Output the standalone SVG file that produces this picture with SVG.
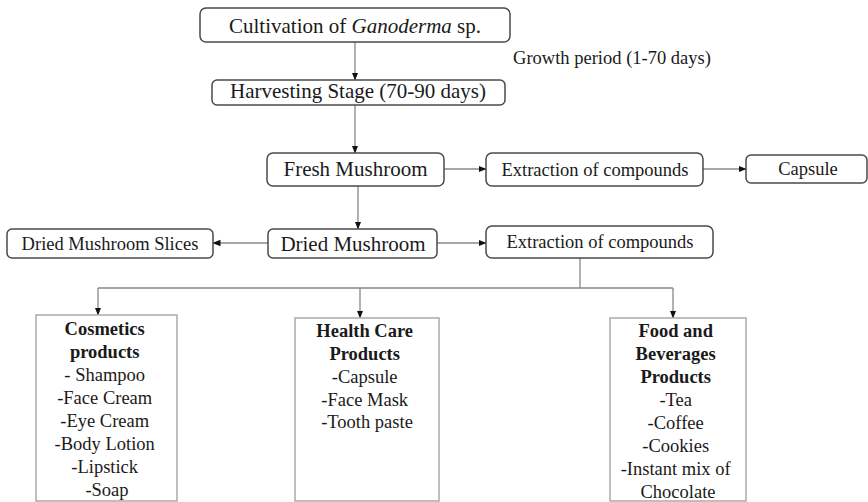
<svg xmlns="http://www.w3.org/2000/svg" width="868" height="502" viewBox="0 0 868 502">
<style>
.b{fill:#fff;stroke:#4a4a4a;stroke-width:1.5}
.p{fill:#fff;stroke:#aaa;stroke-width:1.5}
.t{font-family:"Liberation Serif","Times New Roman",serif;fill:#1a1a1a;text-anchor:middle}
.l{font-size:21px}
.m{font-size:18.5px}
.bold{font-weight:bold}
.c{fill:none;stroke:#888;stroke-width:1.3}
</style>
<defs>
<marker id="ah" viewBox="0 0 8 8" refX="7.5" refY="4" markerWidth="8" markerHeight="8" markerUnits="userSpaceOnUse" orient="auto">
<path d="M0,0.8 L8,4 L0,7.2 Z" fill="#111"/>
</marker>
</defs>
<g id="connectors">
<line class="c" x1="355" y1="42" x2="355" y2="80" marker-end="url(#ah)"/>
<line class="c" x1="355" y1="105" x2="355" y2="153" marker-end="url(#ah)"/>
<line class="c" x1="444" y1="169" x2="486" y2="169" marker-end="url(#ah)"/>
<line class="c" x1="703" y1="169" x2="746" y2="169" marker-end="url(#ah)"/>
<line class="c" x1="358" y1="186" x2="358" y2="229" marker-end="url(#ah)"/>
<line class="c" x1="268" y1="243" x2="213" y2="243" marker-end="url(#ah)"/>
<line class="c" x1="437" y1="243" x2="486" y2="243" marker-end="url(#ah)"/>
<polyline class="c" points="580,258 580,288"/>
<line class="c" x1="98" y1="288" x2="673" y2="288"/>
<line class="c" x1="98" y1="288" x2="98" y2="315" marker-end="url(#ah)"/>
<line class="c" x1="360" y1="288" x2="360" y2="318" marker-end="url(#ah)"/>
<line class="c" x1="673" y1="288" x2="673" y2="318" marker-end="url(#ah)"/>
</g>
<g id="cultivation">
<rect class="b" x="200" y="8" width="310" height="34" rx="6"/>
<text class="t l" x="355" y="33">Cultivation of <tspan font-style="italic">Ganoderma</tspan> sp.</text>
</g>
<g id="growth">
<text class="t" x="612" y="64" font-size="18.5">Growth period (1-70 days)</text>
</g>
<g id="harvesting">
<rect class="b" x="212" y="80" width="293" height="25" rx="5"/>
<text class="t l" x="358" y="98">Harvesting Stage (70-90 days)</text>
</g>
<g id="fresh">
<rect class="b" x="267" y="153" width="177" height="33" rx="6"/>
<text class="t l" x="355.5" y="176">Fresh Mushroom</text>
</g>
<g id="extraction1">
<rect class="b" x="486" y="153" width="217" height="33" rx="6"/>
<text class="t m" x="595" y="176">Extraction of compounds</text>
</g>
<g id="capsule">
<rect class="b" x="746" y="155" width="121" height="28" rx="5"/>
<text class="t m" x="808" y="175">Capsule</text>
</g>
<g id="dried">
<rect class="b" x="268" y="229" width="169" height="29" rx="5"/>
<text class="t l" x="353" y="251">Dried Mushroom</text>
</g>
<g id="slices">
<rect class="b" x="7" y="229" width="206" height="29" rx="5"/>
<text class="t m" x="110" y="250">Dried Mushroom Slices</text>
</g>
<g id="extraction2">
<rect class="b" x="486" y="226" width="227" height="32" rx="6"/>
<text class="t m" x="600" y="248">Extraction of compounds</text>
</g>
<g id="cosmetics">
<rect class="p" x="36" y="315" width="141" height="186"/>
<text class="t m" x="107">
<tspan class="bold" x="107" y="335">Cosmetics</tspan>
<tspan class="bold" x="107" y="358">products</tspan>
<tspan x="107" y="381">- Shampoo</tspan>
<tspan x="107" y="404">-Face Cream</tspan>
<tspan x="107" y="427">-Eye Cream</tspan>
<tspan x="107" y="450">-Body Lotion</tspan>
<tspan x="107" y="473">-Lipstick</tspan>
<tspan x="107" y="496">-Soap</tspan>
</text>
</g>
<g id="healthcare">
<rect class="p" x="295" y="318" width="144" height="183"/>
<text class="t m" x="367">
<tspan class="bold" x="367" y="337">Health Care</tspan>
<tspan class="bold" x="367" y="360">Products</tspan>
<tspan x="367" y="383">-Capsule</tspan>
<tspan x="367" y="406">-Face Mask</tspan>
<tspan x="367" y="428">-Tooth paste</tspan>
</text>
</g>
<g id="food">
<rect class="p" x="610" y="318" width="136" height="183"/>
<text class="t m" x="678">
<tspan class="bold" x="678" y="337">Food and</tspan>
<tspan class="bold" x="678" y="360">Beverages</tspan>
<tspan class="bold" x="678" y="383">Products</tspan>
<tspan x="678" y="406">-Tea</tspan>
<tspan x="678" y="429">-Coffee</tspan>
<tspan x="678" y="452">-Cookies</tspan>
<tspan x="678" y="475">-Instant mix of</tspan>
<tspan x="678" y="498">Chocolate</tspan>
</text>
</g>
</svg>
